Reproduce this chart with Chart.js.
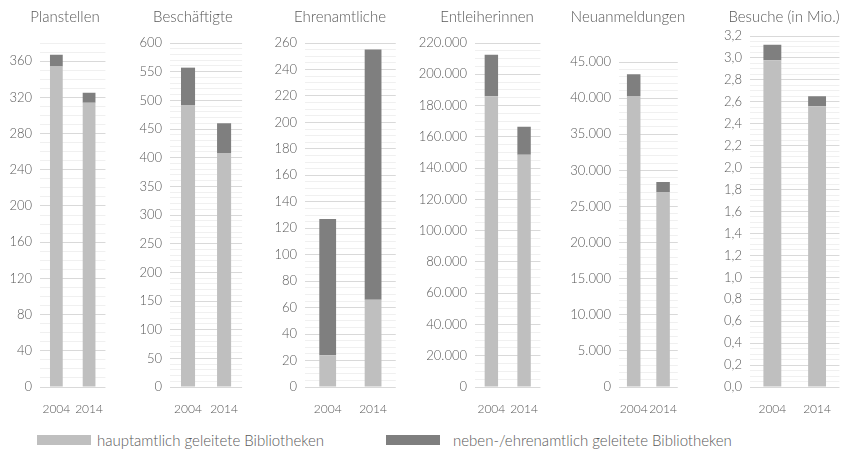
<!DOCTYPE html>
<html><head><meta charset="utf-8">
<script src="https://cdn.jsdelivr.net/npm/chart.js@4/dist/chart.umd.min.js"></script>
<style>
html,body{margin:0;padding:0;background:#fff}
body{width:846px;height:453px;position:relative;overflow:hidden;font-family:Lato,"Open Sans",sans-serif}
.panel{position:absolute;top:0}
.lgbox{position:absolute;height:10px}
.lgtext{position:absolute;font-size:15px;font-weight:300;color:#595959;line-height:18px;white-space:nowrap}
</style></head><body>
<div id="charts"></div>
<div class="lgbox" style="left:37px;top:435px;width:54px;background:#BFBFBF"></div>
<div class="lgtext" id="lg1" style="left:97px;top:431px"></div>
<div class="lgbox" style="left:386px;top:435px;width:54px;background:#7F7F7F"></div>
<div class="lgtext" id="lg2" style="left:453px;top:431px"></div>
<script>
// ---- data ----
const categories = ['2004', '2014'];
const seriesNames = ['hauptamtlich geleitete Bibliotheken', 'neben-/ehrenamtlich geleitete Bibliotheken'];
const panelTitles = ['Planstellen', 'Beschäftigte', 'Ehrenamtliche', 'Entleiherinnen', 'Neuanmeldungen', 'Besuche (in Mio.)'];

const planstellenHaupt = [354, 314];
const planstellenNeben = [13, 11];
const beschaeftigteHaupt = [491, 408];
const beschaeftigteNeben = [66, 52];
const ehrenamtlicheHaupt = [24, 66];
const ehrenamtlicheNeben = [103, 189];
const entleiherHaupt = [186000, 148500];
const entleiherNeben = [26500, 18000];
const neuanmeldungHaupt = [40300, 27000];
const neuanmeldungNeben = [3000, 1400];
const besucheHaupt = [2.98, 2.56];
const besucheNeben = [0.14, 0.09];

const axisMax = [380, 600, 260, 220000, 45000, 3.2];
const majorStep = [40, 50, 20, 20000, 5000, 0.2];
const minorStep = [10, 10, 5, 5000, 1000, 0.05];
const decimals = [0, 0, 0, 0, 0, 1];

const hauptSeries = [planstellenHaupt, beschaeftigteHaupt, ehrenamtlicheHaupt, entleiherHaupt, neuanmeldungHaupt, besucheHaupt];
const nebenSeries = [planstellenNeben, beschaeftigteNeben, ehrenamtlicheNeben, entleiherNeben, neuanmeldungNeben, besucheNeben];

// ---- layout (page pixels) ----
const plotLeft = [40, 170, 305, 475, 619, 750];
const plotRight = [118, 253, 402, 553, 692, 846];
const plotTop = [43, 43, 43, 43, 62, 36];
const titleCenter = [65, 193, 340, 487, 628, 784];
const barPct = [0.39, 0.39, 0.37, 0.41, 0.46, 0.4];
const AXIS_W = 60, CANVAS_H = 425, PLOT_BOTTOM = 387;
const TEXT = '#595959';
const FONT = {family: 'Lato, "Open Sans", sans-serif', size: 13, weight: 300};
const XFONT = {family: 'Lato, "Open Sans", sans-serif', size: 12, weight: 300};

document.getElementById('lg1').textContent = seriesNames[0];
document.getElementById('lg2').textContent = seriesNames[1];

function fmt(v, d) {
  if (d > 0) return v.toFixed(d).replace('.', ',');
  return String(Math.round(v)).replace(/\B(?=(\d{3})+(?!\d))/g, '.');
}

const holder = document.getElementById('charts');
panelTitles.forEach((title, i) => {
  const left = plotLeft[i] - AXIS_W;
  const width = plotRight[i] - left;
  const div = document.createElement('div');
  div.className = 'panel';
  div.style.left = left + 'px';
  div.style.width = width + 'px';
  div.style.height = CANVAS_H + 'px';
  const cv = document.createElement('canvas');
  cv.width = width; cv.height = CANVAS_H;
  cv.style.width = width + 'px'; cv.style.height = CANVAS_H + 'px';
  div.appendChild(cv);
  holder.appendChild(div);

  const major = majorStep[i];
  const isMajor = v => Math.abs(v - Math.round(v / major) * major) < major * 1e-6;

  const titlePlugin = {
    id: 'panelTitle',
    afterDraw(chart) {
      const c = chart.ctx;
      c.save();
      c.font = '300 15px Lato, "Open Sans", sans-serif';
      c.fillStyle = TEXT;
      c.textAlign = 'center';
      c.textBaseline = 'middle';
      c.fillText(title, titleCenter[i] - left, 17);
      c.restore();
    }
  };

  new Chart(cv, {
    type: 'bar',
    data: {
      labels: categories,
      datasets: [
        {label: seriesNames[0], data: hauptSeries[i], backgroundColor: '#BFBFBF', barPercentage: barPct[i], categoryPercentage: 1},
        {label: seriesNames[1], data: nebenSeries[i], backgroundColor: '#7F7F7F', barPercentage: barPct[i], categoryPercentage: 1}
      ]
    },
    options: {
      responsive: false,
      animation: false,
      devicePixelRatio: 1,
      layout: {padding: {top: plotTop[i], right: 0, left: 0, bottom: 0}},
      plugins: {legend: {display: false}, tooltip: {enabled: false}, title: {display: false}},
      scales: {
        x: {
          stacked: true,
          grid: {display: false, drawTicks: false},
          border: {display: false},
          ticks: {padding: 15, color: TEXT, font: XFONT, maxRotation: 0, autoSkip: false},
          afterFit: s => { s.height = CANVAS_H - PLOT_BOTTOM; }
        },
        y: {
          stacked: true,
          min: 0,
          max: axisMax[i],
          grid: {drawTicks: false, color: ctx => isMajor(ctx.tick.value) ? '#D9D9D9' : '#F0F0F0', lineWidth: 1},
          border: {display: false},
          ticks: {
            stepSize: minorStep[i],
            autoSkip: false,
            padding: 8,
            color: TEXT,
            font: FONT,
            callback: v => isMajor(v) ? fmt(v, decimals[i]) : ''
          },
          afterFit: s => { s.width = AXIS_W; }
        }
      }
    },
    plugins: [titlePlugin]
  });
});
</script>
</body></html>
